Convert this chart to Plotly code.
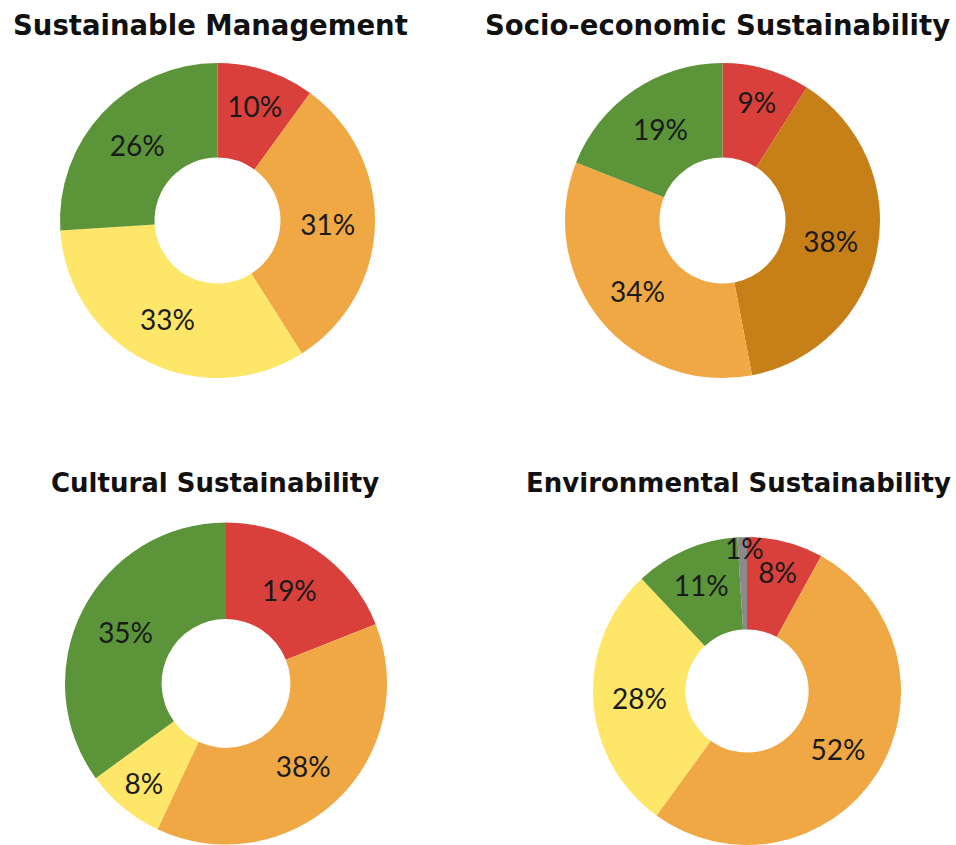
import plotly.graph_objects as go

# Share of responses per sustainability dimension (clockwise from 12 o'clock)
mgmt_labels = ["Red", "Orange", "Yellow", "Green"]
mgmt_values = [10, 31, 33, 26]
mgmt_colors = ["#d9403c", "#f0a845", "#fde668", "#5b9439"]

socio_labels = ["Red", "Dark orange", "Orange", "Green"]
socio_values = [9, 38, 34, 19]
socio_colors = ["#d9403c", "#c77f18", "#f0a845", "#5b9439"]

cult_labels = ["Red", "Orange", "Yellow", "Green"]
cult_values = [19, 38, 8, 35]
cult_colors = ["#d9403c", "#f0a845", "#fde668", "#5b9439"]

env_labels = ["Red", "Orange", "Yellow", "Green", "Grey"]
env_values = [8, 52, 28, 11, 1]
env_colors = ["#d9403c", "#f0a845", "#fde668", "#5b9439", "#8a8a8a"]

titles = ["Sustainable Management", "Socio-economic Sustainability",
          "Cultural Sustainability", "Environmental Sustainability"]

W, H = 956, 845
LABEL_FONT = dict(family="Lato, DejaVu Sans, sans-serif", size=28, color="#1a1a1a")
TITLE_FONT = "DejaVu Sans, sans-serif"


def px_x(a, b):
    return [a / W, b / W]


def px_y(top, bottom):
    return [max(0, 1 - bottom / H), min(1, 1 - top / H)]


def donut(labels, values, colors, dom_x, dom_y, positions=None):
    return go.Pie(
        labels=labels,
        values=values,
        hole=0.4,
        sort=False,
        direction="clockwise",
        rotation=0,
        marker=dict(colors=colors, line=dict(color="white", width=0)),
        texttemplate="%{value}%",
        textposition=positions or "inside",
        insidetextorientation="horizontal",
        insidetextfont=LABEL_FONT,
        showlegend=False,
        domain=dict(x=dom_x, y=dom_y),
    )


fig = go.Figure()
fig.add_trace(donut(mgmt_labels, mgmt_values, mgmt_colors, px_x(60, 375), px_y(63, 378)))
fig.add_trace(donut(socio_labels, socio_values, socio_colors, px_x(565, 880), px_y(63, 378)))
fig.add_trace(donut(cult_labels, cult_values, cult_colors, px_x(65, 387), px_y(522, 845)))
fig.add_trace(donut(env_labels, env_values, env_colors, px_x(591, 903), px_y(537, 845),
                    positions=["inside", "inside", "inside", "inside", "none"]))

annotations = []
title_pos = [(210, 25, 27.5), (717, 25, 27.5), (215, 483, 26), (738, 483, 26)]
for t, (x, y, s) in zip(titles, title_pos):
    annotations.append(dict(
        text=f"<b>{t}</b>", x=x / W, y=1 - y / H, xref="paper", yref="paper",
        xanchor="center", yanchor="middle", showarrow=False,
        font=dict(family=TITLE_FONT, size=s, color="#111111"),
    ))

# the tiny grey slice gets its label straddling the outer edge
annotations.append(dict(
    text=f"{env_values[-1]}%", x=744 / W, y=1 - 548 / H, xref="paper", yref="paper",
    xanchor="center", yanchor="middle", showarrow=False, font=LABEL_FONT,
))

fig.update_layout(
    width=W, height=H,
    margin=dict(l=0, r=0, t=0, b=0),
    paper_bgcolor="white", plot_bgcolor="white",
    annotations=annotations,
)

fig.write_html("out.html")
